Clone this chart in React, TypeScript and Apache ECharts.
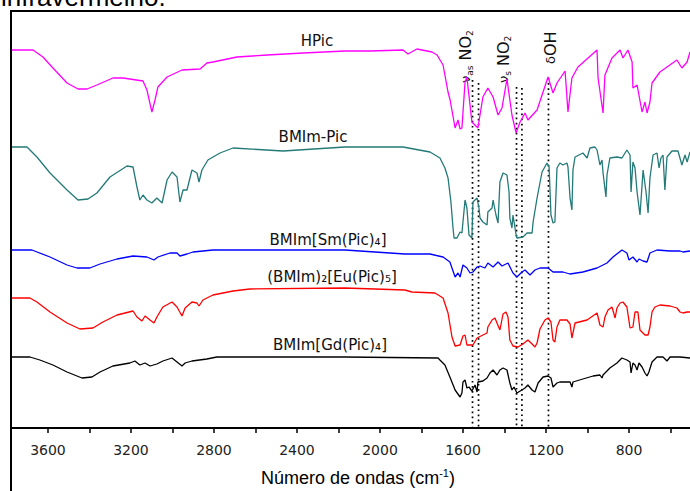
import React, { useEffect, useRef } from "react";
import * as echarts from "echarts";

// Wavenumber (cm-1) and transmittance (a.u., offset traces)
const hpic: number[][] = [
  [3778, 378], [3672, 378], [3624, 371], [3576, 360], [3508, 345], [3455, 339], [3412, 339], [3364, 343],
  [3287, 350], [3238, 350], [3142, 347], [3123, 338], [3099, 316], [3084, 328], [3070, 341], [3026, 351],
  [2954, 358], [2867, 359], [2834, 365], [2805, 366], [2689, 371], [2544, 373], [2371, 375], [2169, 377],
  [2048, 377], [1889, 378], [1865, 374], [1822, 379], [1749, 376], [1725, 373], [1696, 363], [1672, 336],
  [1662, 328], [1638, 300], [1624, 308], [1614, 299], [1605, 300], [1590, 346], [1581, 351], [1557, 306],
  [1528, 300], [1504, 331], [1480, 340], [1455, 331], [1431, 313], [1412, 320], [1388, 349], [1364, 313],
  [1344, 295], [1325, 306], [1301, 315], [1287, 308], [1243, 318], [1190, 351], [1166, 335], [1147, 345],
  [1108, 357], [1094, 316], [1075, 350], [1046, 361], [954, 378], [949, 350], [925, 315], [916, 353],
  [882, 370], [843, 378], [829, 370], [805, 378], [785, 366], [781, 340], [761, 343], [737, 316],
  [723, 326], [713, 315], [699, 326], [689, 345], [651, 356], [569, 368], [545, 360], [520, 366], [506, 376],
];

const bmimPic: number[][] = [
  [3778, 281], [3701, 281], [3653, 271], [3590, 255], [3508, 238], [3455, 228], [3407, 229], [3364, 235],
  [3301, 251], [3219, 262], [3190, 261], [3171, 241], [3157, 228], [3142, 233], [3123, 228], [3099, 225],
  [3075, 230], [3050, 225], [3026, 248], [3002, 256], [2978, 251], [2964, 226], [2949, 238], [2930, 238],
  [2906, 258], [2882, 255], [2872, 246], [2858, 258], [2829, 268], [2771, 275], [2708, 280], [2467, 277],
  [2169, 281], [1889, 281], [1759, 276], [1711, 270], [1687, 260], [1672, 250], [1658, 226], [1648, 200],
  [1643, 190], [1629, 190], [1614, 196], [1605, 195], [1590, 228], [1581, 220], [1571, 193], [1557, 190],
  [1552, 226], [1532, 230], [1523, 220], [1518, 210], [1504, 206], [1484, 203], [1480, 216], [1460, 220],
  [1455, 228], [1441, 213], [1431, 205], [1422, 246], [1407, 255], [1388, 253], [1378, 236], [1374, 210],
  [1364, 200], [1359, 213], [1344, 193], [1340, 190], [1311, 191], [1291, 195], [1267, 195], [1262, 206],
  [1243, 230], [1219, 256], [1195, 265], [1185, 261], [1176, 213], [1166, 205], [1157, 206], [1147, 260],
  [1133, 265], [1118, 263], [1099, 265], [1094, 261], [1084, 230], [1075, 218], [1070, 258], [1060, 271],
  [1022, 275], [1002, 270], [988, 280], [964, 281], [954, 278], [940, 263], [930, 268], [925, 255],
  [911, 231], [906, 253], [892, 270], [858, 271], [834, 270], [810, 278], [795, 273], [790, 236],
  [781, 266], [771, 260], [761, 236], [747, 213], [737, 243], [732, 258], [718, 236], [708, 215],
  [699, 250], [684, 273], [665, 275], [655, 260], [646, 270], [636, 273], [627, 238], [617, 271],
  [593, 277], [564, 277], [545, 263], [530, 273], [520, 266], [506, 276],
];

const smPic: number[][] = [
  [3778, 178], [3677, 178], [3590, 171], [3508, 163], [3460, 160], [3398, 160], [3349, 164], [3267, 169],
  [3190, 172], [3123, 171], [3089, 168], [3070, 171], [3012, 175], [2978, 175], [2964, 172], [2930, 174],
  [2901, 176], [2805, 178], [2169, 178], [1880, 174], [1759, 174], [1696, 171], [1663, 166], [1638, 151],
  [1624, 155], [1614, 151], [1600, 163], [1581, 160], [1566, 155], [1552, 156], [1532, 161], [1518, 162],
  [1494, 160], [1480, 165], [1455, 161], [1431, 166], [1412, 162], [1383, 165], [1359, 155], [1340, 151],
  [1316, 156], [1301, 158], [1277, 153], [1253, 158], [1229, 160], [1190, 160], [1166, 156], [1118, 156],
  [1085, 154], [1022, 156], [954, 160], [906, 165], [877, 171], [834, 178], [810, 175], [800, 168],
  [781, 171], [761, 166], [752, 169], [732, 167], [713, 166], [699, 175], [665, 178], [602, 177],
  [554, 177], [540, 176], [506, 177],
];

const euPic: number[][] = [
  [3778, 130], [3687, 130], [3653, 126], [3590, 116], [3508, 105], [3446, 99], [3383, 100], [3335, 106],
  [3267, 113], [3190, 117], [3171, 111], [3147, 107], [3132, 112], [3108, 108], [3089, 105], [3075, 111],
  [3046, 121], [3002, 126], [2978, 121], [2954, 112], [2939, 120], [2906, 126], [2882, 125], [2872, 122],
  [2853, 128], [2805, 133], [2708, 137], [2627, 139], [2169, 140], [1880, 138], [1846, 136], [1735, 135],
  [1696, 130], [1672, 115], [1653, 91], [1638, 82], [1614, 83], [1600, 92], [1590, 93], [1581, 83],
  [1552, 83], [1532, 90], [1504, 93], [1484, 95], [1480, 101], [1460, 108], [1446, 110], [1436, 105],
  [1422, 98], [1407, 114], [1393, 116], [1383, 111], [1374, 88], [1359, 82], [1335, 81], [1311, 84],
  [1287, 88], [1267, 84], [1253, 81], [1243, 85], [1229, 99], [1205, 108], [1190, 110], [1176, 106],
  [1166, 88], [1157, 86], [1147, 101], [1133, 108], [1099, 108], [1084, 104], [1075, 90], [1070, 95],
  [1060, 105], [1002, 108], [954, 115], [949, 111], [940, 103], [925, 101], [916, 111], [901, 118],
  [882, 121], [867, 110], [858, 120], [843, 125], [829, 126], [810, 121], [795, 100], [781, 101],
  [771, 116], [757, 116], [747, 98], [723, 93], [708, 93], [699, 101], [689, 116], [675, 121],
  [651, 123], [602, 122], [569, 120], [554, 116], [540, 115], [520, 116], [506, 116],
];

const gdPic: number[][] = [
  [3778, 71], [3687, 71], [3639, 68], [3576, 63], [3508, 56], [3436, 50], [3388, 51], [3349, 56],
  [3287, 62], [3205, 65], [3181, 67], [3157, 63], [3132, 65], [3108, 62], [3075, 64], [3046, 67],
  [3002, 70], [2978, 66], [2954, 62], [2939, 65], [2906, 67], [2834, 69], [2786, 71], [2169, 71],
  [1720, 70], [1711, 68], [1687, 63], [1663, 51], [1638, 38], [1614, 31], [1605, 35], [1600, 46],
  [1590, 48], [1581, 40], [1571, 41], [1557, 37], [1542, 43], [1532, 36], [1528, 46], [1504, 47],
  [1484, 50], [1470, 55], [1455, 58], [1436, 53], [1422, 58], [1407, 60], [1388, 58], [1374, 45],
  [1364, 38], [1354, 41], [1340, 35], [1316, 38], [1301, 40], [1287, 43], [1267, 38], [1253, 36],
  [1238, 45], [1214, 51], [1190, 52], [1176, 50], [1166, 41], [1147, 45], [1133, 46], [1084, 46],
  [1075, 41], [1070, 46], [1022, 49], [973, 52], [940, 53], [930, 50], [925, 53], [892, 60],
  [858, 65], [834, 70], [810, 68], [795, 66], [790, 55], [781, 65], [771, 63], [761, 58],
  [752, 65], [737, 61], [723, 55], [713, 52], [704, 56], [689, 66], [665, 71], [636, 71],
  [617, 67], [602, 71], [554, 71], [506, 70],
];

// Band assignment markers (dotted lines): wavenumber and top of the line
const bandWavenumbers = [1554, 1525, 1342, 1316, 1188];
const bandTops = [348, 345, 341, 340, 350];

const seriesNames = ["HPic", "BMIm-Pic", "BMIm[Sm(Pic)₄]", "(BMIm)₂[Eu(Pic)₅]", "BMIm[Gd(Pic)₄]"];
const seriesColors = ["#ff00ff", "#237a78", "#0000ff", "#ff0000", "#000000"];

const tickValues = [600, 800, 1000, 1200, 1400, 1600, 1800, 2000, 2200, 2400, 2600, 2800, 3000, 3200, 3400, 3600];
const labelValues = [800, 1200, 1600, 2000, 2400, 2800, 3200, 3600];

const X_MIN = 506;
const X_MAX = 3778;

export default function App() {
  const ref = useRef<HTMLDivElement>(null);

  useEffect(() => {
    if (!ref.current) return;
    const chart = echarts.init(ref.current, null, { renderer: "svg" });
    const data = [hpic, bmimPic, smPic, euPic, gdPic];

    const spectra = data.map((d, i) => ({
      name: seriesNames[i],
      type: "line",
      data: d,
      showSymbol: false,
      symbol: "none",
      silent: true,
      lineStyle: { color: seriesColors[i], width: 1.3 },
      z: 3,
    }));

    const bands = bandWavenumbers.map((w, i) => ({
      type: "line",
      data: [[w, bandTops[i]], [w, 0]],
      showSymbol: false,
      symbol: "none",
      silent: true,
      lineStyle: { color: "#000", width: 1.7, type: [1.7, 3.4] },
      z: 2,
    }));

    const labelPos = [
      [317, 41],
      [313, 137],
      [328, 240],
      [332, 277],
      [330, 345],
    ];

    const subRich = {
      m: { font: '16px "DejaVu Sans", sans-serif', fontSize: 16, fontFamily: "DejaVu Sans", lineHeight: 18, color: "#111" },
      g: { font: '13px "DejaVu Sans", sans-serif', fontSize: 13, fontFamily: "DejaVu Sans", lineHeight: 18, color: "#111" },
      s: { font: '9px "DejaVu Sans", sans-serif', fontSize: 9, fontFamily: "DejaVu Sans", lineHeight: 9, verticalAlign: "bottom", color: "#111" },
    };

    const rotated = (x: number, y: number, text: string) => ({
      type: "text",
      x,
      y,
      rotation: Math.PI / 2,
      silent: true,
      style: {
        text,
        x: 0,
        y: 0,
        rich: subRich,
        font: '16px "DejaVu Sans", sans-serif',
        align: "left",
        textAlign: "left",
        verticalAlign: "middle",
        textVerticalAlign: "middle",
        fill: "#111",
      },
    });

    chart.setOption({
      animation: false,
      backgroundColor: "#fff",
      grid: { left: 11, right: 0, top: 11, bottom: 63, containLabel: false },
      xAxis: {
        type: "value",
        inverse: true,
        min: X_MIN,
        max: X_MAX,
        axisLine: { show: true, onZero: false, lineStyle: { color: "#000", width: 2 } },
        axisTick: {
          show: true,
          inside: false,
          length: 5,
          customValues: tickValues,
          lineStyle: { color: "#000", width: 1.5 },
        },
        axisLabel: {
          customValues: labelValues,
          formatter: (v: number) => String(v),
          margin: 15,
          fontFamily: "DejaVu Sans",
          fontSize: 14,
          color: "#222",
        },
        splitLine: { show: false },
      },
      yAxis: {
        type: "value",
        min: 0,
        max: 417,
        show: false,
      },
      series: [...spectra, ...bands],
      graphic: [
        {
          type: "rect",
          silent: true,
          shape: { x: 11, y: 11, width: 740, height: 540 },
          style: { fill: "none", stroke: "#000", lineWidth: 2 },
          z: 10,
        },
        {
          type: "text",
          x: 1,
          y: 10,
          silent: true,
          style: {
            text: "infravermelho.",
            font: '26px "Liberation Sans", Arial, sans-serif',
            fill: "#000",
            align: "left",
            textAlign: "left",
            verticalAlign: "bottom",
            textVerticalAlign: "bottom",
          },
        },
        ...seriesNames.map((n, i) => ({
          type: "text",
          x: labelPos[i][0],
          y: labelPos[i][1],
          silent: true,
          style: {
            text: n,
            font: '15px "DejaVu Sans", sans-serif',
            fill: "#111",
            align: "center",
            textAlign: "center",
            verticalAlign: "middle",
            textVerticalAlign: "middle",
          },
        })),
        rotated(465, 83, "{g|ν}{s|as}{m| NO}{s|2}"),
        rotated(503, 83, "{g|ν}{s|s}{m| NO}{s|2}"),
        rotated(550, 64, "{g|δ}{m|OH}"),
        {
          type: "text",
          x: 358,
          y: 478,
          silent: true,
          style: {
            text: "{a|Número de ondas (cm}{b|-1}{a|)}",
            rich: {
              a: { font: '18px "Liberation Sans", Arial', fontSize: 18, fontFamily: "Liberation Sans", lineHeight: 22, color: "#111" },
              b: { font: '11px "Liberation Sans", Arial', fontSize: 11, fontFamily: "Liberation Sans", lineHeight: 11, verticalAlign: "top", color: "#111" },
            },
            align: "center",
            textAlign: "center",
            verticalAlign: "middle",
            textVerticalAlign: "middle",
          },
        },
      ],
    });

    return () => chart.dispose();
  }, []);

  return (
    <div
      ref={ref}
      style={{ position: "absolute", left: 0, top: 0, width: 690, height: 491 }}
    />
  );
}
